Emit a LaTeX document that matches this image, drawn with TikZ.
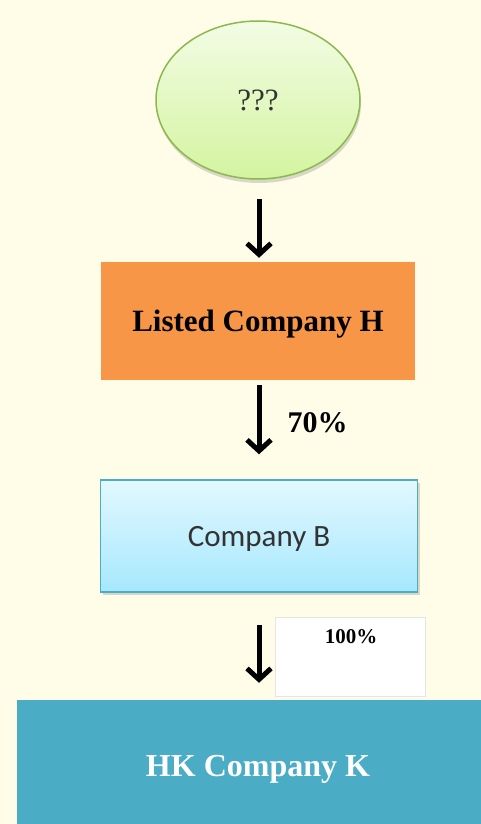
\documentclass[tikz,border=0pt]{standalone}
\usepackage{fontspec}
\setmainfont{Liberation Serif}
\newfontfamily\calibri{Carlito}
\usetikzlibrary{arrows.meta,shadows,shapes.geometric}
\definecolor{paper}{HTML}{FFFDE8}
\definecolor{leafTop}{HTML}{F2FCE4}
\definecolor{leafBot}{HTML}{D4F4A0}
\definecolor{leafRim}{HTML}{8CB850}
\definecolor{orangeH}{HTML}{F79646}
\definecolor{skyTop}{HTML}{E2F8FF}
\definecolor{skyBot}{HTML}{A6E8FD}
\definecolor{tealK}{HTML}{4BACC6}
\tikzset{
  owns/.style={line width=5pt,-{Straight Barb[length=11pt,width=24pt]}},
  pct/.style={font=\bfseries\fontsize{30}{34}\selectfont},
}
\begin{document}
\begin{tikzpicture}[x=1pt,y=-1pt]
\useasboundingbox (0,0) rectangle (481,824);
\clip (0,0) rectangle (481,824);
\fill[paper] (0,0) rectangle (481,824);
\node[ellipse,draw=leafRim,line width=1.5pt,top color=leafTop,bottom color=leafBot,
  drop shadow={opacity=0.3,shadow xshift=1pt,shadow yshift=-4pt},
  minimum width=204,minimum height=158,inner sep=0,
  font=\fontsize{31}{34}\selectfont,text=black!80] (q) at (258,100) {???};
\node[fill=orangeH,minimum width=314,minimum height=118,inner sep=0,text depth=0pt,
  font=\bfseries\fontsize{31}{34}\selectfont] (h) at (258,321) {Listed Company H};
\node[draw=tealK,line width=1.5pt,top color=skyTop,bottom color=skyBot,
  drop shadow={opacity=0.3,shadow xshift=2pt,shadow yshift=-3pt},
  minimum width=317,minimum height=112,inner sep=0,text depth=0pt,
  font=\calibri\fontsize{31}{36}\selectfont,text=black!80] (b) at (259,536) {Company B};
\node[fill=white,draw=black!10,minimum width=150,minimum height=79,inner sep=0] (w) at (350,657) {};
\node[pct,font=\bfseries\fontsize{21}{24}\selectfont,anchor=north] (p100) at (351,626) {100\%};
\node[fill=tealK,minimum width=482,minimum height=132,inner sep=0,text=white,text depth=0pt,
  font=\bfseries\fontsize{32}{36}\selectfont] (k) at (258,766) {HK Company K};
\node[pct,anchor=west] (p70) at (284,423) {70\%};
\draw[owns,shorten <=19pt,shorten >=4pt] ([xshift=1pt]q.south) -- ([xshift=1pt]h.north);
\draw[owns,shorten <=5pt,shorten >=25pt] ([xshift=1pt]h.south) -- (b.north);
\draw[owns,shorten <=32pt,shorten >=17pt] (b.south) -- ([xshift=1pt]k.north);
\end{tikzpicture}
\end{document}
